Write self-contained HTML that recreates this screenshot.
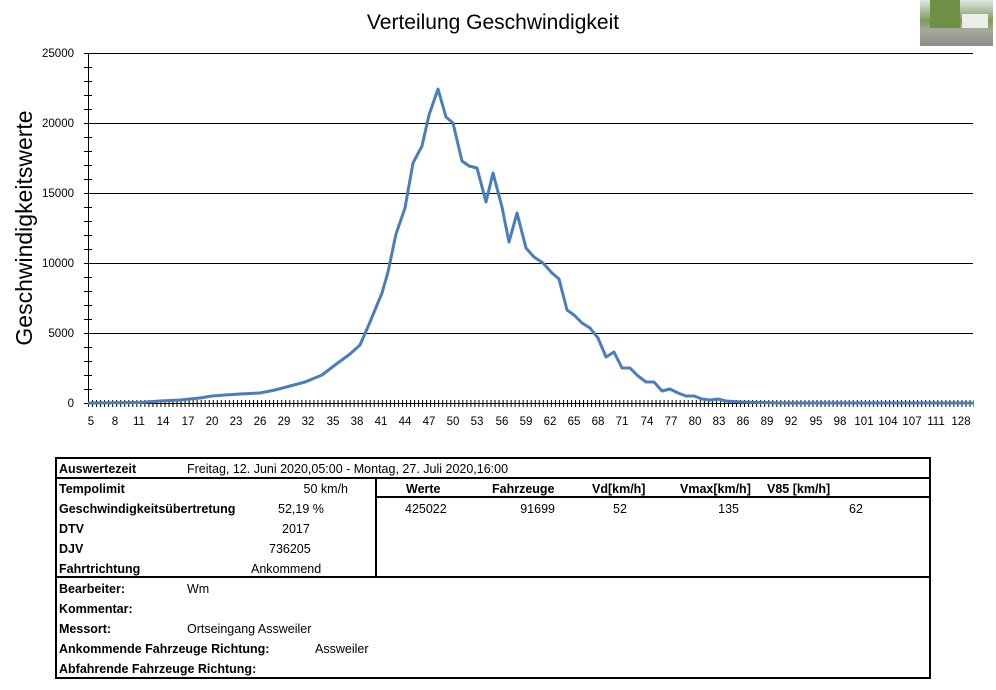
<!DOCTYPE html>
<html><head><meta charset="utf-8"><style>
html,body{margin:0;padding:0;background:#fff;}
svg{display:block;font-family:"Liberation Sans",sans-serif;}
.t{font-size:12.5px;fill:#000}
.b{font-size:12.5px;font-weight:bold;fill:#000}
</style></head><body>
<svg width="996" height="690" viewBox="0 0 996 690">
<defs>
<pattern id="xt" x="88" y="0" width="4.025" height="690" patternUnits="userSpaceOnUse"><rect x="0" y="0" width="1" height="690" fill="#000"/></pattern>
<pattern id="yt" x="0" y="53" width="996" height="14" patternUnits="userSpaceOnUse"><rect x="0" y="0" width="996" height="1" fill="#000"/></pattern>
<linearGradient id="ph" x1="0" y1="0" x2="0" y2="1"><stop offset="0" stop-color="#dfe6e4"/><stop offset="0.45" stop-color="#7f9a5a"/><stop offset="0.65" stop-color="#a9a89c"/><stop offset="1" stop-color="#8e8e8a"/></linearGradient>
</defs>
<text x="493" y="29" text-anchor="middle" style="font-size:21px">Verteilung Geschwindigkeit</text>
<rect x="920" y="0" width="73" height="46" fill="url(#ph)"/>
<rect x="930" y="0" width="30" height="28" fill="#6f8f45"/>
<rect x="962" y="14" width="26" height="14" fill="#eceeea"/>
<g stroke="#000" stroke-width="1">
<line x1="88" y1="53.5" x2="973" y2="53.5"/>
<line x1="88" y1="123.5" x2="973" y2="123.5"/>
<line x1="88" y1="193.5" x2="973" y2="193.5"/>
<line x1="88" y1="263.5" x2="973" y2="263.5"/>
<line x1="88" y1="333.5" x2="973" y2="333.5"/>
<line x1="88" y1="403.5" x2="973" y2="403.5"/>
<line x1="88.5" y1="53" x2="88.5" y2="404"/>
</g>
<rect x="84" y="53" width="8" height="351" fill="url(#yt)"/>
<rect x="88" y="400" width="886" height="7" fill="url(#xt)"/>
<g class="t" text-anchor="end" style="font-size:11.5px">
<text x="74" y="57">25000</text><text x="74" y="127">20000</text><text x="74" y="197">15000</text>
<text x="74" y="267">10000</text><text x="74" y="337">5000</text><text x="74" y="407">0</text>
</g>
<text transform="translate(32,228) rotate(-90)" text-anchor="middle" style="font-size:23px">Geschwindigkeitswerte</text>
<g style="font-size:11.5px" text-anchor="middle">
<text x="91" y="425">5</text><text x="115" y="425">8</text><text x="139" y="425">11</text><text x="163" y="425">14</text><text x="188" y="425">17</text><text x="212" y="425">20</text><text x="236" y="425">23</text><text x="260" y="425">26</text><text x="284" y="425">29</text><text x="308" y="425">32</text><text x="333" y="425">35</text><text x="357" y="425">38</text><text x="381" y="425">41</text><text x="405" y="425">44</text><text x="429" y="425">47</text><text x="453" y="425">50</text><text x="477" y="425">53</text><text x="502" y="425">56</text><text x="526" y="425">59</text><text x="550" y="425">62</text><text x="574" y="425">65</text><text x="598" y="425">68</text><text x="622" y="425">71</text><text x="647" y="425">74</text><text x="671" y="425">77</text><text x="695" y="425">80</text><text x="719" y="425">83</text><text x="743" y="425">86</text><text x="767" y="425">89</text><text x="791" y="425">92</text><text x="816" y="425">95</text><text x="840" y="425">98</text><text x="864" y="425">101</text><text x="888" y="425">104</text><text x="912" y="425">107</text><text x="936" y="425">111</text><text x="961" y="425">128</text>
</g>
<polyline fill="none" stroke="#4a7ebb" stroke-width="3" stroke-linejoin="round" points="88,403 140,402.5 160,401 180,400 200,398 212,396 225,395 240,394 260,393 275,390 290,386 305,382 322,375 335,365 350,354 360,345 370,322 382,293 388,272 396,234 405,208 413,163 422,146 429,115 438,89 446,117 453,123 462,161 469,166 477,168 486,202 493,173 502,207 509,242 517,213 526,248 534,257 543,263 552,273 559,279 567,310 574,315 582,323 590,328 598,338 606,357 614,352 622,368 630,368 638,376 646,382 654,382 662,391 670,389 678,393 686,396 694,396 702,399 710,400 718,399 726,401 740,402 780,403 973,403"/>
<g stroke="#000" stroke-width="2" fill="none">
<rect x="56" y="458" width="874" height="220"/>
<line x1="56" y1="478" x2="930" y2="478"/>
<line x1="56" y1="577" x2="930" y2="577"/>
<line x1="376" y1="478" x2="376" y2="577"/>
<line x1="376" y1="497" x2="930" y2="497"/>
</g>
<g class="b">
<text x="59" y="473">Auswertezeit</text>
<text x="59" y="493">Tempolimit</text>
<text x="59" y="513">Geschwindigkeitsübertretung</text>
<text x="59" y="533">DTV</text>
<text x="59" y="553">DJV</text>
<text x="59" y="573">Fahrtrichtung</text>
<text x="59" y="593">Bearbeiter:</text>
<text x="59" y="613">Kommentar:</text>
<text x="59" y="633">Messort:</text>
<text x="59" y="653">Ankommende Fahrzeuge Richtung:</text>
<text x="59" y="673">Abfahrende Fahrzeuge Richtung:</text>
<text x="406" y="493">Werte</text>
<text x="492" y="493">Fahrzeuge</text>
<text x="592" y="493">Vd[km/h]</text>
<text x="680" y="493">Vmax[km/h]</text>
<text x="767" y="493">V85 [km/h]</text>
</g>
<g class="t">
<text x="187" y="473">Freitag, 12. Juni 2020,05:00  -  Montag, 27. Juli 2020,16:00</text>
<text x="348" y="493" text-anchor="end">50 km/h</text>
<text x="278" y="513">52,19 %</text>
<text x="282" y="533">2017</text>
<text x="269" y="553">736205</text>
<text x="251" y="573">Ankommend</text>
<text x="187" y="593">Wm</text>
<text x="187" y="633">Ortseingang Assweiler</text>
<text x="315" y="653">Assweiler</text>
<text x="405" y="513">425022</text>
<text x="555" y="513" text-anchor="end">91699</text>
<text x="613" y="513">52</text>
<text x="739" y="513" text-anchor="end">135</text>
<text x="849" y="513">62</text>
</g>
</svg>
</body></html>
